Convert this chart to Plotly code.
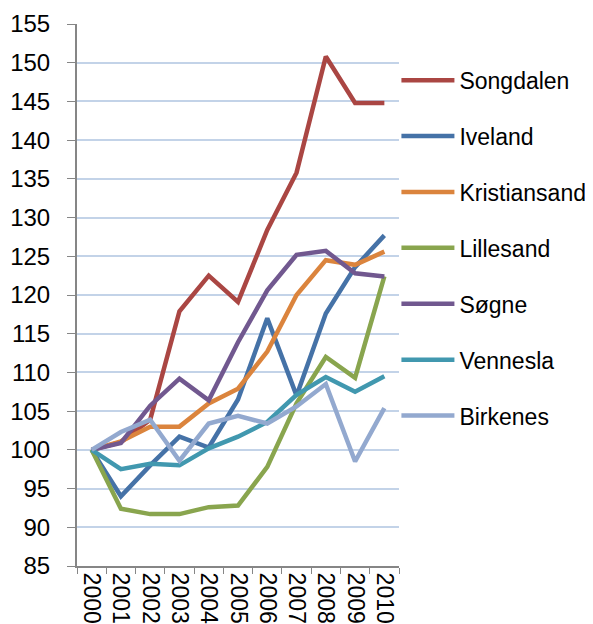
import plotly.graph_objects as go

years = ["2000", "2001", "2002", "2003", "2004", "2005", "2006", "2007", "2008", "2009", "2010"]

songdalen = [100, 101.0, 103.9, 117.9, 122.5, 119.1, 128.4, 135.8, 150.8, 144.8, 144.8]
iveland = [100, 94.0, 98.0, 101.7, 100.3, 106.5, 117.0, 107.0, 117.6, 123.6, 127.7]
kristiansand = [100, 101.1, 103.0, 103.0, 106.0, 107.9, 112.7, 120.0, 124.5, 123.9, 125.6]
lillesand = [100, 92.4, 91.7, 91.7, 92.6, 92.8, 97.8, 106.0, 112.0, 109.3, 122.4]
sogne = [100, 100.9, 105.7, 109.2, 106.4, 113.9, 120.6, 125.2, 125.7, 122.8, 122.4]
vennesla = [100, 97.5, 98.2, 98.0, 100.2, 101.7, 103.6, 107.1, 109.4, 107.5, 109.5]
birkenes = [100, 102.3, 103.9, 98.6, 103.4, 104.4, 103.4, 105.6, 108.5, 98.5, 105.4]

names = ["Songdalen", "Iveland", "Kristiansand", "Lillesand", "Søgne", "Vennesla", "Birkenes"]
series = [songdalen, iveland, kristiansand, lillesand, sogne, vennesla, birkenes]
colors = ["#AA4643", "#4572A7", "#DB843D", "#89A54E", "#71588F", "#4198AF", "#93A9CF"]

fig = go.Figure()
for n, s, c in zip(names, series, colors):
    fig.add_trace(go.Scatter(
        x=years, y=s, name=n, mode="lines", legendgroup=n,
        line=dict(color=c, width=4.5),
    ))

font = "Liberation Sans, Arial, sans-serif"
fig.update_layout(
    width=585, height=616,
    margin=dict(l=69, r=194, t=16, b=58, autoexpand=False),
    paper_bgcolor="white", plot_bgcolor="white",
    font=dict(family=font, size=24, color="black"),
    showlegend=True,
    legend=dict(
        x=0.992, xanchor="left", y=0.936, yanchor="top",
        font=dict(family=font, size=23, color="black"),
        tracegroupgap=23, bgcolor="rgba(0,0,0,0)",
        itemwidth=53,
    ),
    xaxis=dict(
        type="category", tickangle=90, tickson="boundaries",
        ticks="outside", ticklen=6, tickcolor="#868686",
        showline=True, linecolor="#868686", linewidth=2,
        showgrid=False, tickfont=dict(size=23),
        range=[-0.5, 10.5], automargin=False,
    ),
    yaxis=dict(
        range=[85, 155], dtick=5, tick0=85,
        ticks="outside", ticklen=8, tickcolor="#868686",
        showline=True, linecolor="#868686", linewidth=2,
        showgrid=True, gridcolor="#C3D3E8", gridwidth=1.5,
        zeroline=False, tickfont=dict(size=24), automargin=False,
        ticklabelstandoff=12,
    ),
)

fig.write_html("out.html")
